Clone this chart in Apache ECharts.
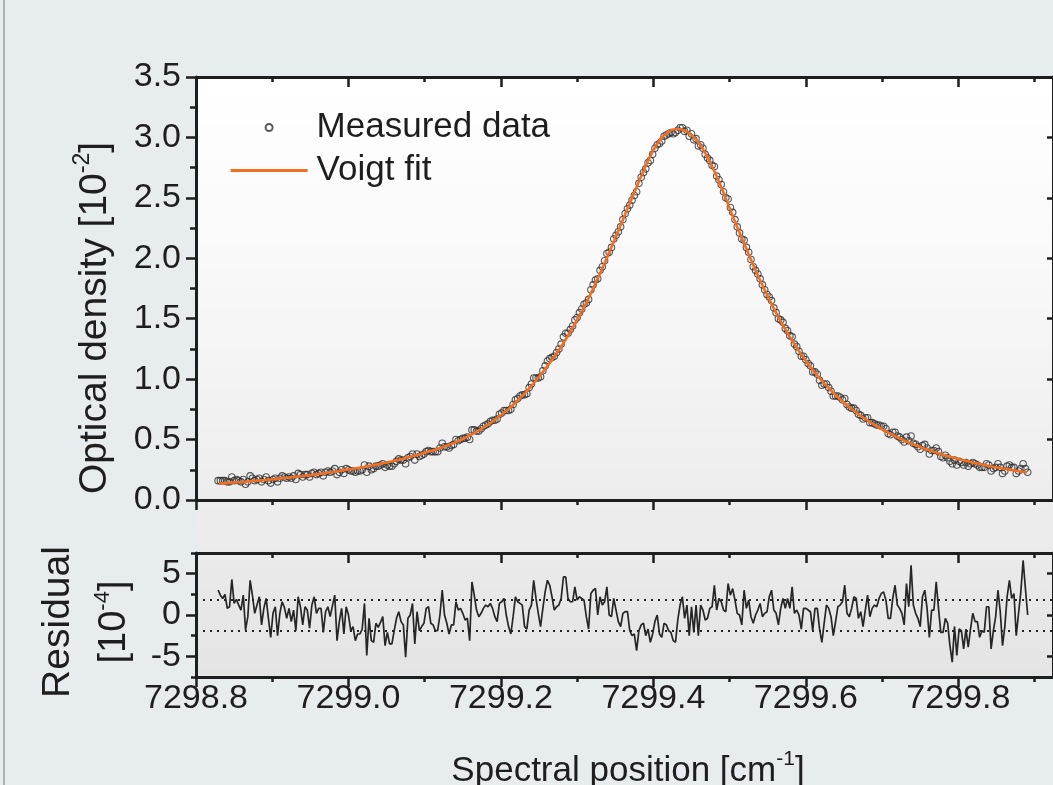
<!DOCTYPE html>
<html>
<head>
<meta charset="utf-8">
<script src="https://cdn.jsdelivr.net/npm/echarts@6/dist/echarts.min.js"></script>
<style>
html,body{margin:0;padding:0;background:#e7ecef;}
#chart{width:1053px;height:785px;}
</style>
</head>
<body>
<div id="chart"></div>
<script>
// ---------- data ----------
const X_MIN = 7298.8;
const X_MAX = 7299.9242;
const X_TICKS = [7298.8, 7299.0, 7299.2, 7299.4, 7299.6, 7299.8];
const X_MINOR_TICKS = [7298.9, 7299.1, 7299.3, 7299.5, 7299.7, 7299.9];
const OD_MIN = 0, OD_MAX = 3.5, OD_INTERVAL = 0.5;
const RES_MIN = -7.5, RES_MAX = 7.5;
const RES_TICKS = [-5, 0, 5];
const RES_MINOR_TICKS = [-7.5, -2.5, 2.5, 7.5];
const RES_BAND = [1.85, -1.85];

// sampling of the measured spectrum (cm^-1)
const SAMPLE_START = 7298.829;
const SAMPLE_STEP = 0.003;
// sampling of the fitted profile (cm^-1)
const FIT_START = 7298.83;
const FIT_STEP = 0.01;

// measured optical density [1e-2]
const MEASURED = [
0.16,0.16,0.16,0.16,0.15,0.15,0.19,0.16,0.17,0.16,
0.15,0.17,0.13,0.15,0.20,0.18,0.16,0.17,0.18,0.15,
0.17,0.19,0.16,0.14,0.17,0.18,0.15,0.18,0.20,0.19,
0.18,0.19,0.18,0.20,0.17,0.22,0.21,0.19,0.21,0.21,
0.19,0.22,0.23,0.21,0.22,0.23,0.20,0.23,0.24,0.23,
0.24,0.26,0.21,0.23,0.25,0.22,0.26,0.25,0.24,0.24,
0.23,0.24,0.24,0.25,0.29,0.23,0.28,0.25,0.26,0.28,
0.28,0.29,0.30,0.27,0.29,0.28,0.28,0.30,0.32,0.34,
0.33,0.33,0.30,0.35,0.36,0.38,0.33,0.38,0.36,0.37,
0.38,0.40,0.41,0.40,0.40,0.40,0.40,0.43,0.47,0.44,
0.44,0.43,0.45,0.46,0.50,0.49,0.50,0.51,0.51,0.52,
0.50,0.58,0.58,0.57,0.57,0.59,0.61,0.62,0.63,0.65,
0.66,0.66,0.67,0.71,0.72,0.74,0.74,0.74,0.75,0.79,
0.83,0.84,0.86,0.87,0.87,0.88,0.93,0.96,1.01,1.01,
1.01,1.02,1.07,1.11,1.15,1.17,1.18,1.19,1.22,1.25,
1.29,1.35,1.38,1.38,1.41,1.44,1.49,1.51,1.55,1.58,
1.62,1.63,1.66,1.74,1.78,1.82,1.83,1.90,1.93,1.98,
2.04,2.05,2.09,2.16,2.19,2.22,2.26,2.32,2.37,2.41,
2.44,2.48,2.52,2.55,2.62,2.67,2.71,2.74,2.79,2.81,
2.86,2.91,2.94,2.95,2.97,3.01,3.02,3.03,3.04,3.03,
3.04,3.06,3.08,3.08,3.05,3.06,3.01,3.03,2.98,2.99,
2.93,2.94,2.91,2.86,2.83,2.81,2.77,2.76,2.68,2.65,
2.61,2.55,2.50,2.49,2.42,2.38,2.32,2.26,2.21,2.16,
2.15,2.09,2.05,1.99,1.93,1.90,1.87,1.83,1.78,1.74,
1.70,1.68,1.65,1.59,1.55,1.50,1.49,1.47,1.42,1.40,
1.36,1.35,1.29,1.27,1.23,1.19,1.19,1.16,1.13,1.11,
1.06,1.06,1.04,0.99,0.95,0.96,0.96,0.93,0.90,0.86,
0.86,0.86,0.85,0.83,0.84,0.79,0.77,0.76,0.76,0.74,
0.71,0.70,0.67,0.68,0.68,0.64,0.64,0.63,0.62,0.62,
0.61,0.61,0.59,0.55,0.54,0.56,0.56,0.53,0.52,0.50,
0.48,0.52,0.49,0.53,0.47,0.46,0.44,0.42,0.45,0.46,
0.43,0.38,0.41,0.41,0.43,0.40,0.36,0.35,0.37,0.35,
0.32,0.30,0.33,0.29,0.32,0.31,0.29,0.31,0.28,0.30,
0.31,0.30,0.29,0.27,0.27,0.27,0.30,0.29,0.24,0.26,
0.27,0.30,0.27,0.22,0.24,0.28,0.29,0.27,0.27,0.22,
0.24,0.26,0.30,0.26,0.23
];

// Voigt fit [1e-2]
const FIT = [
0.135,0.140,0.145,0.149,0.154,0.160,0.165,0.171,0.178,0.184,
0.191,0.198,0.206,0.214,0.223,0.232,0.242,0.252,0.262,0.273,
0.285,0.297,0.310,0.324,0.339,0.355,0.372,0.390,0.409,0.430,
0.452,0.477,0.505,0.536,0.571,0.610,0.653,0.701,0.753,0.811,
0.874,0.944,1.020,1.100,1.186,1.279,1.380,1.490,1.609,1.737,
1.874,2.018,2.167,2.319,2.470,2.620,2.765,2.895,2.992,3.050,
3.070,3.060,3.020,2.950,2.850,2.720,2.575,2.415,2.258,2.107,
1.959,1.818,1.685,1.561,1.445,1.339,1.241,1.151,1.069,0.994,
0.925,0.863,0.806,0.753,0.705,0.662,0.621,0.585,0.551,0.519,
0.490,0.464,0.439,0.416,0.395,0.375,0.357,0.340,0.324,0.309,
0.295,0.282,0.270,0.259,0.248,0.238,0.228
];

// residual [1e-4]
const RESIDUAL = [
3.0,2.4,2.0,2.5,0.8,1.0,4.3,1.4,1.9,1.2,
0.6,2.4,-1.8,-0.2,4.2,2.4,0.2,1.2,2.2,-1.2,
0.8,2.0,-0.4,-2.7,0.2,1.0,-2.5,0.2,1.6,0.9,
-0.4,0.8,-0.8,0.6,-1.9,2.2,1.0,-1.2,1.0,0.6,
-1.6,1.2,2.2,0.2,0.8,0.8,-2.1,0.4,1.0,-0.2,
1.1,2.4,-3.1,-0.8,0.8,-2.3,1.0,0,-1.9,-1.4,
-3.1,-2.3,-2.3,-1.7,1.4,-4.9,-0.4,-3.1,-3.3,-1.0,
-1.5,-0.9,-0.2,-3.7,-2.1,-3.5,-3.5,-1.9,-0.4,0.4,
-0.8,-1.2,-5.1,-0.4,0,1.4,
-3.5,0.4,-1.9,-1.4,-1.0,0.8,1.0,-1.0,-1.2,-1.9,
-1.9,0,3.0,0,-1.0,-2.3,-1.2,-1.2,1.6,0.6,
0.8,0.2,-0.6,-0.4,-3.1,4.0,2.4,0.6,-0.2,0.2,
0.8,1.2,1.0,1.4,0.8,-0.2,-0.8,1.4,1.6,2.0,
0,-1.4,-2.3,-0.2,2.2,1.6,1.4,1.2,-1.4,-1.7,
0.6,1.2,4.2,2.0,0.2,-1.4,0.8,2.8,4.2,3.6,
2.2,0.6,1.0,1.2,2.0,4.6,4.6,2.0,1.6,1.6,
3.4,1.8,2.2,2.0,1.8,-0.2,-1.7,2.6,3.0,3.2,
0,2.2,1.2,1.6,3.4,0,-0.2,2.0,
0.6,-0.8,-1.4,0.2,0.4,0.4,-1.9,-2.5,-2.3,-4.3,
-1.9,-1.2,-1.0,-2.5,-1.7,-3.3,-2.3,-0.8,0,-2.3,
-2.7,-1.0,-1.2,-1.9,-2.1,-3.1,-3.3,-0.6,1.2,2.2,
-0.4,1.2,-2.5,1.0,-2.1,1.2,-2.5,1.2,0.6,-0.6,
-0.4,0.8,1.0,3.6,0.6,2.0,1.6,0.6,0.4,3.8,
2.4,3.2,1.8,0.2,0,-1.2,3.0,0.8,1.8,-0.2,
-1.0,0,0.6,1.4,-0.2,0.2,0.4,2.2,3.0,0.6,
0.2,-1.2,0.8,2.0,0.8,2.0,0.8,3.4,0.2,0.6,
0,-1.7,0.8,0.8,0.6,0.4,-1.9,0.8,0.8,-1.7,
-3.3,-1.0,1.2,0.8,-0.2,-2.5,-0.8,1.0,1.2,1.6,
3.6,0.2,-0.2,0.8,2.2,2.0,-0.4,0.4,-1.4,0.6,
2.4,-0.2,0.8,1.2,1.0,2.0,2.6,2.8,1.8,-0.4,
-0.4,2.0,3.6,1.2,0.8,0.2,-1.2,3.8,1.0,6.0,
1.2,0.2,-0.4,-1.4,2.2,3.0,0.8,-2.7,0.6,0.6,
4.0,0.8,-2.1,-2.1,-0.4,-1.0,-3.7,-5.7,-1.4,-4.9,
-1.7,-1.9,-4.1,-1.7,-3.9,-1.7,0.2,-0.8,-0.8,-2.7,
-1.9,-2.1,1.0,1.0,-4.1,-1.9,-0.2,3.0,0.4,-3.7,
-1.4,2.2,4.2,2.0,2.6,-2.5,0.2,2.8,6.6,3.2,
0
];

// ---------- build ----------
const FONT = '"Liberation Sans", Arial, Helvetica, sans-serif';
const INK = '#1e1e1e';
const FIT_COLOR = '#f26f22';
const sampleX = i => +(SAMPLE_START + i * SAMPLE_STEP).toFixed(4);
const fitX = k => +(FIT_START + k * FIT_STEP).toFixed(4);
const measuredData = MEASURED.map((v, i) => [sampleX(i), v]);
const residualData = RESIDUAL.map((v, i) => [sampleX(i), v]);
const fitData = FIT.map((v, k) => [fitX(k), v]);

const GRID_LEFT = 196, GRID_W = 860;
const AXLINE = { show: true, onZero: false, lineStyle: { color: INK, width: 3 } };
const NOLINE = { show: false, onZero: false };

function xAx(grid, pos, ticks, len, inside, line, labels) {
  return {
    type: 'value', gridIndex: grid, position: pos, min: X_MIN, max: X_MAX,
    axisLine: line ? AXLINE : NOLINE,
    axisTick: { show: true, inside: inside, length: len, customValues: ticks,
                lineStyle: { color: INK, width: 2.5 } },
    axisLabel: labels ? { show: true, customValues: X_TICKS, margin: 5,
                fontSize: 34, fontFamily: FONT, color: INK,
                formatter: v => Number(v).toFixed(1) } : { show: false },
    splitLine: { show: false }, minorTick: { show: false }
  };
}

const option = {
  backgroundColor: '#e7ecef',
  animation: false,
  grid: [
    { left: GRID_LEFT, top: 77, width: GRID_W, height: 423, containLabel: false },
    { left: GRID_LEFT, top: 553, width: GRID_W, height: 124, containLabel: false }
  ],
  xAxis: [
    xAx(0, 'bottom', X_TICKS, 10, false, true, false),
    xAx(0, 'bottom', X_MINOR_TICKS, 5, false, false, false),
    xAx(0, 'top', X_TICKS, 10, true, true, false),
    xAx(0, 'top', X_MINOR_TICKS, 5, true, false, false),
    xAx(1, 'bottom', X_TICKS, 10, false, true, true),
    xAx(1, 'bottom', X_MINOR_TICKS, 5, false, false, false),
    xAx(1, 'top', X_TICKS, 10, true, true, false),
    xAx(1, 'top', X_MINOR_TICKS, 5, true, false, false)
  ],
  yAxis: [
    { type: 'value', gridIndex: 0, position: 'left', min: OD_MIN, max: OD_MAX, interval: OD_INTERVAL,
      axisLine: AXLINE,
      axisTick: { show: true, length: 10, lineStyle: { color: INK, width: 2.5 } },
      minorTick: { show: true, splitNumber: 2, length: 6, lineStyle: { color: INK, width: 2.5 } },
      axisLabel: { fontSize: 34, fontFamily: FONT, color: INK, margin: 15,
                   formatter: v => Number(v).toFixed(1) },
      splitLine: { show: false } },
    { type: 'value', gridIndex: 0, position: 'right', min: OD_MIN, max: OD_MAX, interval: OD_INTERVAL,
      axisLine: AXLINE,
      axisTick: { show: true, inside: true, length: 6, lineStyle: { color: INK, width: 2.5 } },
      axisLabel: { show: false }, splitLine: { show: false } },
    { type: 'value', gridIndex: 1, position: 'left', min: RES_MIN, max: RES_MAX, interval: 2.5,
      axisLine: AXLINE,
      axisTick: { show: true, length: 10, customValues: RES_TICKS, lineStyle: { color: INK, width: 2.5 } },
      axisLabel: { show: true, customValues: RES_TICKS, fontSize: 34, fontFamily: FONT, color: INK, margin: 15,
                   formatter: v => String(v) },
      splitLine: { show: false } },
    { type: 'value', gridIndex: 1, position: 'left', min: RES_MIN, max: RES_MAX, interval: 2.5,
      axisLine: NOLINE,
      axisTick: { show: true, length: 5, customValues: RES_MINOR_TICKS, lineStyle: { color: INK, width: 2.5 } },
      axisLabel: { show: false }, splitLine: { show: false } },
    { type: 'value', gridIndex: 1, position: 'right', min: RES_MIN, max: RES_MAX, interval: 2.5,
      axisLine: AXLINE,
      axisTick: { show: true, inside: true, length: 6, customValues: RES_TICKS, lineStyle: { color: INK, width: 2.5 } },
      axisLabel: { show: false }, splitLine: { show: false } }
  ],
  legend: {
    orient: 'vertical', left: 229, top: 110, padding: 0,
    itemWidth: 77, itemHeight: 7, itemGap: 8,
    selectedMode: false,
    textStyle: { fontSize: 35, fontFamily: FONT, color: INK, lineHeight: 34, padding: [0, 0, 0, 4] },
    data: [
      { name: 'Measured data', icon: 'circle' },
      { name: 'Voigt fit', itemStyle: { color: 'rgba(0,0,0,0)', borderWidth: 0 },
        lineStyle: { color: FIT_COLOR, width: 3.2 } }
    ]
  },
  series: [
    { name: 'Measured data', type: 'scatter', xAxisIndex: 0, yAxisIndex: 0,
      symbol: 'circle', symbolSize: 6.5,
      itemStyle: { color: 'rgba(0,0,0,0)', borderColor: '#2e2e2e', borderWidth: 1.1 },
      data: measuredData, z: 3, silent: true },
    { name: 'Voigt fit', type: 'line', xAxisIndex: 0, yAxisIndex: 0,
      symbol: 'none', showSymbol: false, smooth: 0.3,
      lineStyle: { color: FIT_COLOR, width: 2.6 }, itemStyle: { color: 'rgba(0,0,0,0)' },
      data: fitData, z: 4, silent: true },
    { name: 'Residual', type: 'line', xAxisIndex: 4, yAxisIndex: 2,
      symbol: 'none', showSymbol: false,
      lineStyle: { color: '#262626', width: 1.7 },
      data: residualData, z: 4, silent: true,
      markLine: { silent: true, symbol: ['none', 'none'], label: { show: false },
        lineStyle: { type: [2, 5], color: '#222', width: 1.8 },
        data: RES_BAND.map(v => ({ yAxis: v })) } }
  ],
  graphic: [
    { type: 'rect', z: -10, silent: true,
      shape: { x: GRID_LEFT, y: 77, width: GRID_W, height: 600 },
      style: { fill: new echarts.graphic.LinearGradient(0, 0, 0, 1, [
        { offset: 0, color: '#ffffff' }, { offset: 0.3, color: '#f9f9f9' },
        { offset: 0.7, color: '#ededed' }, { offset: 1, color: '#e4e4e5' }]) } },
    { type: 'line', z: -5, silent: true,
      shape: { x1: 4, y1: 0, x2: 4, y2: 785 },
      style: { stroke: '#9c9c9c', lineWidth: 1.5 } },
    { type: 'text', x: 95, y: 318, rotation: Math.PI / 2, silent: true,
      style: { text: '{b|Optical density [10}{s|-2}{b|]}', textAlign: 'center', textVerticalAlign: 'middle',
        align: 'center', verticalAlign: 'middle', fill: INK, font: '39px ' + FONT,
        rich: { b: { fontSize: 39, lineHeight: 47, fontFamily: FONT, fill: INK, color: INK },
                s: { fontSize: 23, lineHeight: 20, verticalAlign: 'top', fontFamily: FONT, fill: INK, color: INK } } } },
    { type: 'text', x: 628, y: 771, silent: true,
      style: { text: '{b|Spectral position [cm}{s|-1}{b|]}', textAlign: 'center', textVerticalAlign: 'middle',
        align: 'center', verticalAlign: 'middle', fill: INK, font: '35px ' + FONT,
        rich: { b: { fontSize: 35, lineHeight: 44, fontFamily: FONT, fill: INK, color: INK },
                s: { fontSize: 21, lineHeight: 19, verticalAlign: 'top', fontFamily: FONT, fill: INK, color: INK } } } },
    { type: 'text', x: 58, y: 622, rotation: Math.PI / 2, silent: true,
      style: { text: 'Residual', textAlign: 'center', textVerticalAlign: 'middle',
        align: 'center', verticalAlign: 'middle', fill: INK, font: '39px ' + FONT } },
    { type: 'text', x: 115, y: 622, rotation: Math.PI / 2, silent: true,
      style: { text: '{b|[10}{s|-4}{b|]}', textAlign: 'center', textVerticalAlign: 'middle',
        align: 'center', verticalAlign: 'middle', fill: INK, font: '38px ' + FONT,
        rich: { b: { fontSize: 38, lineHeight: 46, fontFamily: FONT, fill: INK, color: INK },
                s: { fontSize: 22, lineHeight: 20, verticalAlign: 'top', fontFamily: FONT, fill: INK, color: INK } } } }
  ]
};

const chart = echarts.init(document.getElementById('chart'), null, { renderer: 'canvas' });
chart.setOption(option);
</script>
</body>
</html>
